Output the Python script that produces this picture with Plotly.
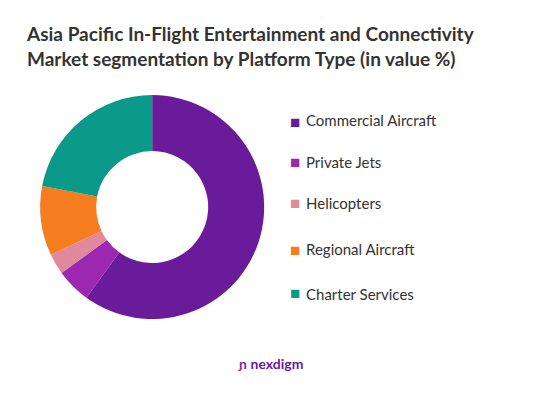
import plotly.graph_objects as go

labels = ["Commercial Aircraft", "Private Jets", "Helicopters", "Regional Aircraft", "Charter Services"]
values = [60, 5, 3, 10, 22]
colors = ["#6a1b9a", "#9c27b0", "#e0889c", "#f57c1f", "#0b9a8a"]

fig = go.Figure(go.Pie(
    labels=labels, values=values, hole=0.5, sort=False, direction="clockwise",
    rotation=0, marker=dict(colors=colors), textinfo="none", showlegend=False,
    domain=dict(x=[0.06, 0.478], y=[0.232, 0.785])))

# legend drawn by hand so the spacing matches
legend_y = [101, 154, 195, 241, 297]
for lab, col, yy in zip(labels, colors, legend_y):
    fig.add_annotation(x=287 / 536, y=1 - yy / 405, xref="paper", yref="paper",
                       text="■", showarrow=False, xanchor="center",
                       font=dict(size=17, color=col))
    fig.add_annotation(x=296 / 536, y=1 - yy / 405, xref="paper", yref="paper",
                       text=lab, showarrow=False, xanchor="left",
                       font=dict(size=15, color="#333333"))

fig.add_annotation(x=16 / 536, y=1 - 12 / 405, xref="paper", yref="paper",
                   text="<b>Asia Pacific In-Flight Entertainment and Connectivity<br>"
                        "Market segmentation by Platform Type (in value %)</b>",
                   showarrow=False, xanchor="left", yanchor="top", align="left",
                   font=dict(size=19, color="#333333"))
fig.add_annotation(x=262 / 536, y=1 - 366 / 405, xref="paper", yref="paper",
                   text="<span style='color:#8e24aa'><b>ɲ</b></span> <b>nexdigm</b>",
                   showarrow=False, font=dict(size=14, color="#6a1b9a"))

fig.update_layout(width=536, height=405, margin=dict(l=0, r=0, t=0, b=0),
                  paper_bgcolor="white", font=dict(family="Lato, Noto Sans"))
fig.write_html("out.html")
